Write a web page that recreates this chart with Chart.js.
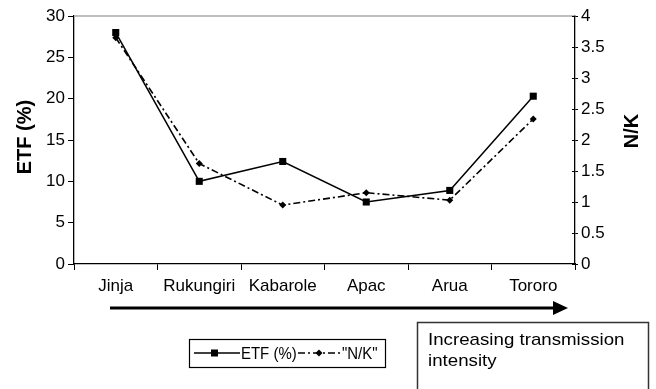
<!DOCTYPE html>
<html>
<head>
<meta charset="utf-8">
<script src="https://cdn.jsdelivr.net/npm/chart.js@4.4.0/dist/chart.umd.min.js"></script>
<style>
  html, body { margin: 0; padding: 0; background: #fff; }
  #wrap { width: 656px; height: 389px; }
</style>
</head>
<body>
<div id="wrap"><canvas id="etfChart" width="656" height="389"></canvas></div>
<script>
// 데이터
const sites = ['Jinja', 'Rukungiri', 'Kabarole', 'Apac', 'Arua', 'Tororo'];
const etfValues = [28, 10, 12.4, 7.5, 8.9, 20.3];
const nkValues = [3.65, 1.62, 0.95, 1.15, 1.03, 2.34];
const etfTicks = [0, 5, 10, 15, 20, 25, 30];
const nkTicks = [0, 0.5, 1, 1.5, 2, 2.5, 3, 3.5, 4];

const FONT = '"Liberation Sans", Arial, Helvetica, sans-serif';

// 축 제목, 화살표, 범례 상자 그리기
const extrasPlugin = {
    id: 'extras',
    afterDraw(chart) {
        const ctx = chart.ctx;
        const area = chart.chartArea;
        const y1 = chart.scales.y1;
        ctx.save();

        // 위쪽 회색 테두리
        ctx.strokeStyle = '#a8a8a8';
        ctx.lineWidth = 1.5;
        ctx.beginPath();
        ctx.moveTo(area.left, area.top);
        ctx.lineTo(area.right, area.top);
        ctx.stroke();

        // 오른쪽 축 안쪽 눈금
        ctx.strokeStyle = '#000';
        ctx.lineWidth = 1;
        nkTicks.forEach(v => {
            const py = Math.round(y1.getPixelForValue(v)) + 0.5;
            ctx.beginPath();
            ctx.moveTo(area.right - 3, py);
            ctx.lineTo(area.right, py);
            ctx.stroke();
        });

        // 축 제목
        ctx.fillStyle = '#000';
        ctx.font = 'bold 20px ' + FONT;
        ctx.textAlign = 'center';
        ctx.textBaseline = 'middle';
        ctx.save();
        ctx.translate(25, 137);
        ctx.rotate(-Math.PI / 2);
        ctx.fillText('ETF (%)', 0, 0);
        ctx.restore();
        ctx.save();
        ctx.translate(632, 131);
        ctx.rotate(-Math.PI / 2);
        ctx.fillText('N/K', 0, 0);
        ctx.restore();

        // 전파 강도 화살표
        ctx.lineWidth = 3;
        ctx.beginPath();
        ctx.moveTo(110, 308);
        ctx.lineTo(555, 308);
        ctx.stroke();
        ctx.beginPath();
        ctx.moveTo(553, 301);
        ctx.lineTo(568, 308);
        ctx.lineTo(553, 315);
        ctx.closePath();
        ctx.fill();

        // 범례 상자
        const ds = chart.data.datasets;
        ctx.lineWidth = 1.2;
        ctx.strokeRect(189.5, 339.5, 196, 28);
        const ly = 353;
        ctx.font = '17px ' + FONT;
        ctx.textAlign = 'left';
        ctx.textBaseline = 'middle';

        ctx.lineWidth = ds[0].borderWidth;
        ctx.setLineDash([]);
        ctx.beginPath();
        ctx.moveTo(194, ly);
        ctx.lineTo(240, ly);
        ctx.stroke();
        ctx.fillRect(211, ly - 3.5, 7, 7);
        ctx.save();
        ctx.translate(241, ly + 1);
        ctx.scale(0.88, 1);
        ctx.fillText('ETF (%)', 0, 0);
        ctx.restore();

        ctx.lineWidth = ds[1].borderWidth;
        ctx.setLineDash(ds[1].borderDash);
        ctx.beginPath();
        ctx.moveTo(298, ly);
        ctx.lineTo(342, ly);
        ctx.stroke();
        ctx.setLineDash([]);
        ctx.beginPath();
        ctx.moveTo(319, ly - 3.5);
        ctx.lineTo(322.5, ly);
        ctx.lineTo(319, ly + 3.5);
        ctx.lineTo(315.5, ly);
        ctx.closePath();
        ctx.fill();
        ctx.save();
        ctx.translate(342, ly + 1);
        ctx.scale(0.88, 1);
        ctx.fillText('"N/K"', 0, 0);
        ctx.restore();

        // 설명 상자
        ctx.strokeStyle = '#333';
        ctx.lineWidth = 1.5;
        ctx.strokeRect(417.5, 322.5, 231, 72);
        ctx.font = '17px ' + FONT;
        ctx.textBaseline = 'alphabetic';
        ctx.save();
        ctx.translate(428, 0);
        ctx.scale(1.1, 1);
        ctx.fillText('Increasing transmission', 0, 345);
        ctx.fillText('intensity', 0, 366);
        ctx.restore();

        ctx.restore();
    }
};

document.addEventListener('DOMContentLoaded', function() {
    const ctx = document.getElementById('etfChart');

    new Chart(ctx, {
        type: 'line',
        data: {
            labels: sites,
            datasets: [{
                label: 'ETF (%)',
                data: etfValues,
                yAxisID: 'y',
                borderColor: '#000',
                backgroundColor: '#000',
                borderWidth: 1.5,
                tension: 0,
                fill: false,
                pointStyle: 'rect',
                pointRadius: 5,
                pointBackgroundColor: '#000',
                pointBorderWidth: 0
            }, {
                label: '"N/K"',
                data: nkValues,
                yAxisID: 'y1',
                borderColor: '#000',
                backgroundColor: '#000',
                borderWidth: 1.6,
                borderDash: [7, 3, 2, 3],
                tension: 0,
                fill: false,
                pointStyle: 'rectRot',
                pointRadius: 3.5,
                pointBackgroundColor: '#000',
                pointBorderWidth: 0
            }]
        },
        options: {
            responsive: false,
            animation: false,
            layout: { padding: { top: 16, bottom: 95, left: 0, right: 0 } },
            plugins: {
                legend: { display: false },
                tooltip: { enabled: false }
            },
            scales: {
                x: {
                    offset: true,
                    grid: { offset: true, drawOnChartArea: false, tickLength: 6, color: '#000', lineWidth: 1 },
                    border: { color: '#000', width: 1.3 },
                    ticks: {
                        autoSkip: false,
                        maxRotation: 0,
                        minRotation: 0,
                        padding: 6,
                        color: '#000',
                        font: { family: FONT, size: 17 }
                    },
                    afterFit(scale) { scale.height = 30; }
                },
                y: {
                    position: 'left',
                    min: 0,
                    max: 30,
                    afterBuildTicks(scale) { scale.ticks = etfTicks.map(v => ({ value: v })); },
                    grid: { drawOnChartArea: false, tickLength: 6, color: '#000' },
                    border: { color: '#000', width: 1.3 },
                    ticks: {
                        padding: 3,
                        color: '#000',
                        font: { family: FONT, size: 17 }
                    },
                    afterFit(scale) { scale.width = 74; }
                },
                y1: {
                    position: 'right',
                    min: 0,
                    max: 4,
                    afterBuildTicks(scale) { scale.ticks = nkTicks.map(v => ({ value: v })); },
                    grid: { drawOnChartArea: false, tickLength: 3, color: '#000' },
                    border: { color: '#000', width: 1.3 },
                    ticks: {
                        padding: 3,
                        color: '#000',
                        font: { family: FONT, size: 17 },
                        callback: (v) => String(v)
                    },
                    afterFit(scale) { scale.width = 81; }
                }
            }
        },
        plugins: [extrasPlugin]
    });
});
</script>
</body>
</html>
